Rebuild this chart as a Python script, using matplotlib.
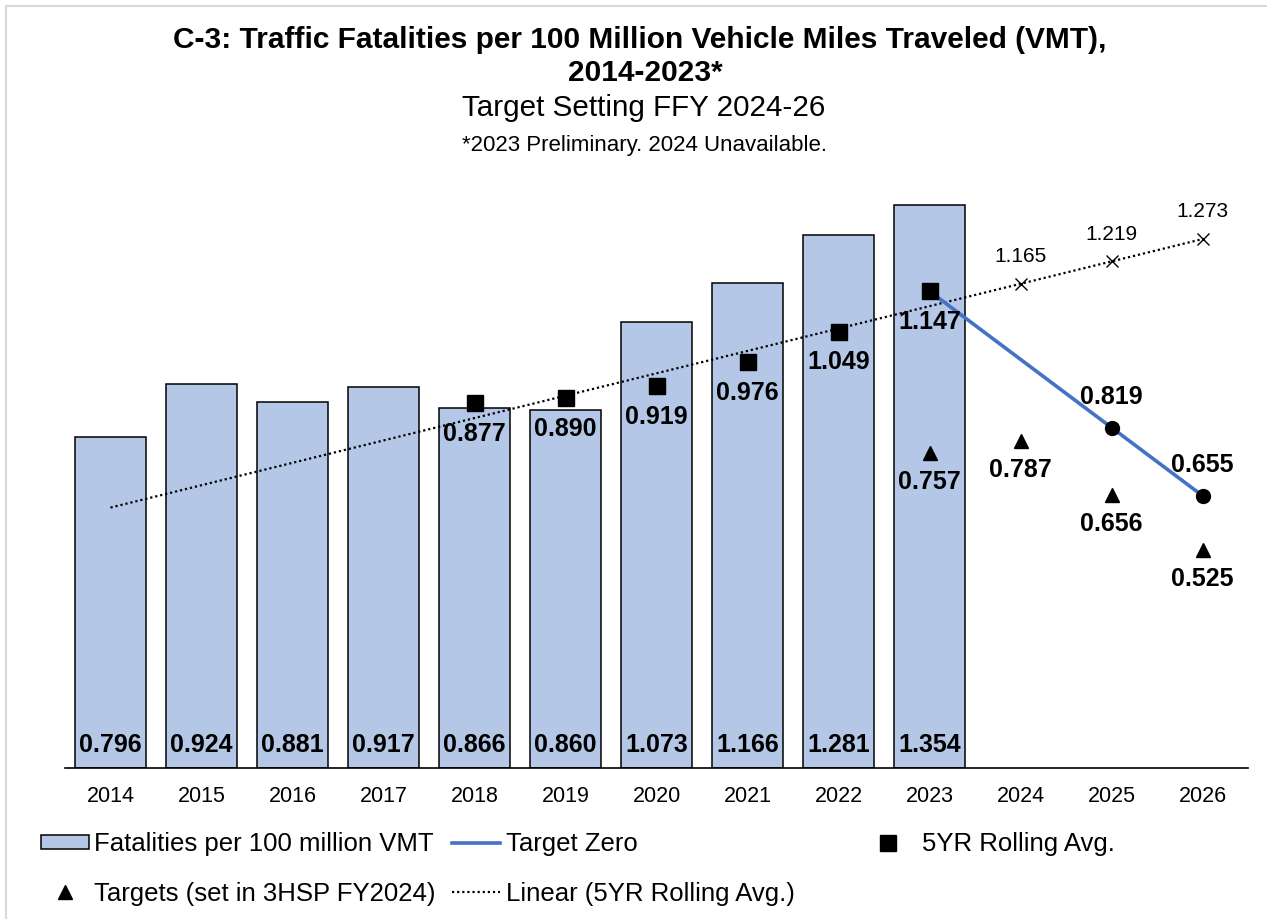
import numpy as np
import matplotlib
matplotlib.use("Agg")
import matplotlib.pyplot as plt
from matplotlib.lines import Line2D
from matplotlib.patches import Patch, Rectangle

plt.rcParams['font.family'] = ['Liberation Sans', 'DejaVu Sans']

# ---------------- data ----------------
years = [2014, 2015, 2016, 2017, 2018, 2019, 2020, 2021, 2022, 2023, 2024, 2025, 2026]
bar_years = [2014, 2015, 2016, 2017, 2018, 2019, 2020, 2021, 2022, 2023]
fatality_rate = [0.796, 0.924, 0.881, 0.917, 0.866, 0.860, 1.073, 1.166, 1.281, 1.354]

roll_years = [2018, 2019, 2020, 2021, 2022, 2023]
rolling_avg = [0.877, 0.890, 0.919, 0.976, 1.049, 1.147]

tz_years = [2023, 2025, 2026]
target_zero = [1.147, 0.819, 0.655]

tgt_years = [2023, 2024, 2025, 2026]
targets = [0.757, 0.787, 0.656, 0.525]

proj_years = [2024, 2025, 2026]
trend_proj = [1.165, 1.219, 1.273]

title1 = "C-3: Traffic Fatalities per 100 Million Vehicle Miles Traveled (VMT),"
title2 = "2014-2023*"
subtitle = "Target Setting FFY 2024-26"
note = "*2023 Preliminary. 2024 Unavailable."

# ---------------- style ----------------
BAR = "#B4C7E7"
BLUE = "#4472C4"

W, H = 1267, 919
fig = plt.figure(figsize=(W / 100, H / 100), dpi=100)

# outer chart border
fig.add_artist(Rectangle((6 / W, -0.05), 1.2, 1 - 6 / H + 0.05, transform=fig.transFigure,
                         fill=False, edgecolor="#D9D9D9", lw=1.5))

ax = fig.add_axes([65 / W, (H - 768) / H, 1183 / W, 582 / H])
ax.set_xlim(2013.5, 2026.5)
ax.set_ylim(0, 1.4)

ax.bar(bar_years, fatality_rate, width=0.79, color=BAR, edgecolor="black", lw=1.1, zorder=1)

# linear trend of 5yr rolling average
DOT = (0, (1, 1.3))
coef = np.polyfit(roll_years, rolling_avg, 1)
tx = np.array([years[0], years[-1]])
ax.plot(tx, np.polyval(coef, tx), ls=DOT, color="black", lw=1.6, zorder=2)
ax.plot(proj_years, trend_proj, ls="none", marker="x", ms=9, mew=1.0, color="black", zorder=3)

ax.plot(tz_years, target_zero, color=BLUE, lw=2.6, zorder=3)
ax.plot(tz_years[1:], target_zero[1:], ls="none", marker="o", ms=10, color="black", zorder=4)

ax.plot(roll_years, rolling_avg, ls="none", marker="s", ms=11, color="black", zorder=4)
ax.plot(tgt_years, targets, ls="none", marker="^", ms=10, color="black", zorder=4)

# labels
for x, v in zip(bar_years, fatality_rate):
    ax.annotate(f"{v:.3f}", (x, 0), xytext=(0, 16.5), textcoords="offset points",
                ha="center", va="center", fontsize=18, fontweight="bold", zorder=5)
for x, v in zip(roll_years, rolling_avg):
    ax.annotate(f"{v:.3f}", (x, v), xytext=(0, -22), textcoords="offset points",
                ha="center", va="center", fontsize=18, fontweight="bold", zorder=5)
for x, v in zip(tgt_years, targets):
    ax.annotate(f"{v:.3f}", (x, v), xytext=(0, -21), textcoords="offset points",
                ha="center", va="center", fontsize=18, fontweight="bold", zorder=5)
for x, v in zip(tz_years[1:], target_zero[1:]):
    ax.annotate(f"{v:.3f}", (x, v), xytext=(0, 22), textcoords="offset points",
                ha="center", va="center", fontsize=18, fontweight="bold", zorder=5)
for x, v in zip(proj_years, trend_proj):
    ax.annotate(f"{v:.3f}", (x, v), xytext=(0, 19.5), textcoords="offset points",
                ha="center", va="center", fontsize=15, zorder=5)

for s in ["top", "left", "right"]:
    ax.spines[s].set_visible(False)
ax.spines["bottom"].set_linewidth(1.2)
ax.set_yticks([])
ax.set_xticks(years)
ax.set_xticklabels([str(y) for y in years])
ax.tick_params(axis="x", length=0, pad=13, labelsize=15.5)

# titles
fig.text(0.505, 1 - 40 / H, title1, ha="center", va="center", fontsize=21.5, fontweight="bold")
fig.text(0.509, 1 - 73 / H, title2, ha="center", va="center", fontsize=21.5, fontweight="bold")
fig.text(0.508, 1 - 108 / H, subtitle, ha="center", va="center", fontsize=21.3)
fig.text(0.509, 1 - 145 / H, note, ha="center", va="center", fontsize=16)

# legends
h_bar = Patch(facecolor=BAR, edgecolor="black", lw=1.1)
h_tz = Line2D([], [], color=BLUE, lw=2.6)
h_sq = Line2D([], [], ls="none", marker="s", ms=11, color="black")
h_tri = Line2D([], [], ls="none", marker="^", ms=10, color="black")
h_lin = Line2D([], [], ls=DOT, color="black", lw=1.6)

common = dict(frameon=False, fontsize=18.5, borderpad=0, borderaxespad=0,
              handlelength=1.85, handleheight=0.5, labelspacing=1.0, loc="upper left")
top = 1 - 832 / H
fig.legend([h_bar, h_tri], ["Fatalities per 100 million VMT", "Targets (set in 3HSP FY2024)"],
           bbox_to_anchor=(41 / W, top), handletextpad=0.2, **common)
fig.legend([h_tz, h_lin], ["Target Zero", "Linear (5YR Rolling Avg.)"],
           bbox_to_anchor=(452 / W, top), handletextpad=0.25, **common)
fig.legend([h_sq], ["5YR Rolling Avg."],
           bbox_to_anchor=(864 / W, top), handletextpad=0.4, **common)

fig.savefig("out.png", dpi=100)
